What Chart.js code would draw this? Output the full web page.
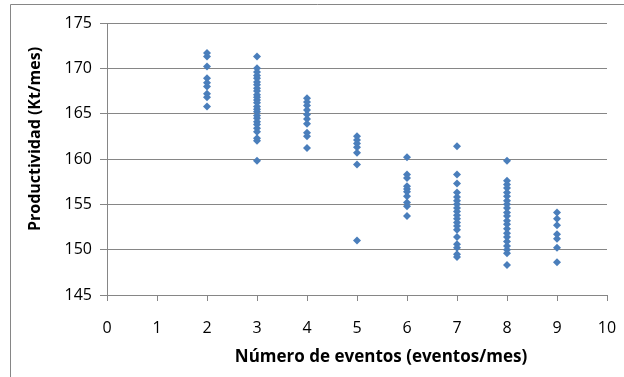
<!DOCTYPE html>
<html>
<head>
<meta charset="utf-8">
<script src="https://cdn.jsdelivr.net/npm/chart.js@4/dist/chart.umd.min.js"></script>
<style>
  html, body { margin: 0; padding: 0; background: #ffffff; }
  #wrap { width: 624px; height: 377px; position: relative; }
</style>
</head>
<body>
<div id="wrap"><canvas id="c" width="624" height="377"></canvas></div>
<script>
// Productividad mensual (Kt/mes) observada para cada número de eventos por mes
const eventos = [2, 3, 4, 5, 6, 7, 8, 9];
const prodEv2 = [171.7, 171.3, 170.2, 168.9, 168.4, 168.0, 167.2, 166.8, 165.8];
const prodEv3 = [171.3, 170.0, 169.6, 169.2, 168.9, 168.5, 168.2, 167.8, 167.5, 167.1,
                 166.8, 166.5, 166.2, 165.8, 165.5, 165.2, 164.8, 164.5, 164.1, 163.8,
                 163.4, 163.0, 162.3, 162.0, 159.8];
const prodEv4 = [166.7, 166.3, 165.9, 165.4, 164.9, 164.4, 163.9, 162.9, 162.5, 161.2];
const prodEv5 = [162.5, 162.1, 161.7, 161.3, 160.7, 159.4, 151.0];
const prodEv6 = [160.2, 158.3, 157.9, 157.0, 156.7, 156.4, 155.9, 155.2, 154.8, 153.7];
const prodEv7 = [161.4, 158.3, 157.3, 156.3, 155.8, 155.4, 155.0, 154.6, 154.2, 153.8,
                 153.4, 153.0, 152.6, 152.2, 151.4, 150.6, 150.2, 149.5, 149.2];
const prodEv8 = [159.8, 157.6, 157.2, 156.8, 156.3, 155.9, 155.4, 155.0, 154.6, 154.1,
                 153.7, 153.2, 152.8, 152.3, 151.8, 151.4, 150.9, 150.4, 150.0, 149.6, 148.3];
const prodEv9 = [154.1, 153.4, 152.7, 151.7, 151.2, 150.2, 148.6];

const xTicks = [0, 1, 2, 3, 4, 5, 6, 7, 8, 9, 10];
const yTicks = [145, 150, 155, 160, 165, 170, 175];

const tituloX = 'Número de eventos (eventos/mes)';
const tituloY = 'Productividad (Kt/mes)';

const grupos = [prodEv2, prodEv3, prodEv4, prodEv5, prodEv6, prodEv7, prodEv8, prodEv9];
const puntos = [];
grupos.forEach((vals, i) => vals.forEach(v => puntos.push({ x: eventos[i], y: v })));

const gris = '#868686';
const fuente = '"Open Sans", "Liberation Sans", sans-serif';

// Marco exterior y títulos de los ejes
const decoracion = {
  id: 'decoracion',
  afterDraw(chart) {
    const ctx = chart.ctx;
    ctx.save();
    ctx.strokeStyle = gris;
    ctx.lineWidth = 1;
    ctx.beginPath();
    ctx.moveTo(10.5, chart.height);
    ctx.lineTo(10.5, 4.5);
    ctx.lineTo(chart.width, 4.5);
    ctx.stroke();

    ctx.fillStyle = '#000000';
    ctx.textAlign = 'center';
    ctx.textBaseline = 'middle';
    ctx.font = 'bold 17px ' + fuente;
    ctx.fillText(tituloX, 381, 357);

    ctx.font = 'bold 16px ' + fuente;
    ctx.translate(35, 139);
    ctx.rotate(-Math.PI / 2);
    ctx.fillText(tituloY, 0, 0);
    ctx.restore();
  }
};

new Chart(document.getElementById('c'), {
  type: 'scatter',
  data: {
    datasets: [{
      label: 'Productividad',
      data: puntos,
      pointStyle: 'rectRot',
      pointRadius: 4,
      pointHoverRadius: 4,
      backgroundColor: '#4A7EBB',
      borderColor: '#4A7EBB',
      borderWidth: 0
    }]
  },
  options: {
    responsive: false,
    animation: false,
    layout: { padding: { top: 23, right: 17, left: 0, bottom: 0 } },
    plugins: { legend: { display: false }, tooltip: { enabled: false } },
    scales: {
      x: {
        type: 'linear',
        min: 0, max: 10,
        afterBuildTicks(s) { s.ticks = xTicks.map(v => ({ value: v })); },
        afterFit(s) { s.height = 377 - 295; s.paddingLeft = 0; s.paddingRight = 0; },
        grid: { display: true, drawOnChartArea: false, drawTicks: true, tickLength: 6, color: gris },
        border: { display: true, color: gris, width: 1 },
        ticks: { color: '#000000', padding: 18, maxRotation: 0, font: { family: fuente, size: 16 } }
      },
      y: {
        type: 'linear',
        min: 145, max: 175,
        afterBuildTicks(s) { s.ticks = yTicks.map(v => ({ value: v })); },
        afterFit(s) { s.width = 107; s.paddingTop = 0; s.paddingBottom = 0; },
        grid: { display: true, drawOnChartArea: true, drawTicks: true, tickLength: 7, color: gris },
        border: { display: true, color: gris, width: 1 },
        ticks: { color: '#000000', padding: 8, font: { family: fuente, size: 16 } }
      }
    }
  },
  plugins: [decoracion]
});
</script>
</body>
</html>
